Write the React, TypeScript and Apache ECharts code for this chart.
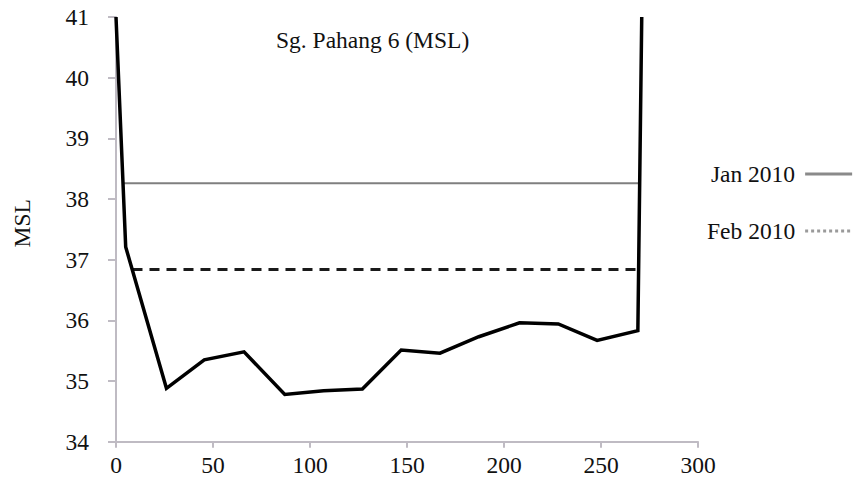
import React, { useEffect, useRef } from "react";
import * as echarts from "echarts";

const profileX = [0, 5, 26, 45.5, 66, 87, 107, 127, 147, 167, 187, 208, 228, 248, 269, 271];
const profileY = [41, 37.21, 34.88, 35.35, 35.48, 34.78, 34.84, 34.87, 35.51, 35.46, 35.73, 35.96, 35.94, 35.67, 35.83, 41];
const janX = [3.8, 269.3];
const janY = [38.26, 38.26];
const febX = [8.5, 269.5];
const febY = [36.84, 36.84];
const seriesNames = ["Jan 2010", "Feb 2010"];
const titleText = "Sg. Pahang 6 (MSL)";
const yName = "MSL";

const FONT = "Liberation Serif";
const FS = 23.5;

function pairs(xs: number[], ys: number[]) {
  return xs.map((x, i) => [x, ys[i]]);
}

export default function App() {
  const ref = useRef<HTMLDivElement>(null);
  useEffect(() => {
    if (!ref.current) return;
    const chart = echarts.init(ref.current, undefined, { renderer: "svg" });
    const axisColor = "#bfbbc3";
    const hidden = { color: "rgba(0,0,0,0)", opacity: 0, borderWidth: 0 };
    chart.setOption({
      animation: false,
      backgroundColor: "#ffffff",
      textStyle: { fontFamily: FONT },
      title: {
        text: titleText,
        left: 276,
        top: 28,
        padding: 0,
        textStyle: { fontFamily: FONT, fontSize: FS, fontWeight: "normal", color: "#111" },
      },
      legend: {
        orient: "vertical",
        left: 702,
        top: 157,
        align: "right",
        itemWidth: 47,
        itemHeight: 14,
        itemGap: 33,
        textStyle: { fontFamily: FONT, fontSize: FS, color: "#111", padding: [0, 5, 0, 0] },
        data: [
          { name: seriesNames[0], itemStyle: hidden, lineStyle: { color: "#8a8a8a", width: 3, type: "solid" } },
          { name: seriesNames[1], itemStyle: hidden, lineStyle: { color: "#9a9a9a", width: 3, type: "dotted" } },
        ],
      },
      grid: { left: 116, right: 164, top: 17, bottom: 37.3, containLabel: false },
      xAxis: {
        type: "value",
        min: 0,
        max: 300,
        interval: 50,
        axisLine: { show: true, lineStyle: { color: axisColor, width: 2 } },
        axisTick: { show: true, length: 6, lineStyle: { color: axisColor, width: 2 } },
        splitLine: { show: false },
        axisLabel: { margin: 11, fontFamily: FONT, fontSize: FS, color: "#111" },
      },
      yAxis: {
        type: "value",
        min: 34,
        max: 41,
        interval: 1,
        name: yName,
        nameLocation: "middle",
        nameRotate: 90,
        nameGap: 82,
        nameTextStyle: { fontFamily: FONT, fontSize: FS, color: "#111", padding: [0, 0, 0, 12] },
        axisLine: { show: true, lineStyle: { color: axisColor, width: 2 } },
        axisTick: { show: true, length: 8, lineStyle: { color: axisColor, width: 2 } },
        splitLine: { show: false },
        axisLabel: { margin: 27, fontFamily: FONT, fontSize: FS, color: "#111" },
      },
      series: [
        {
          name: "profile",
          type: "line",
          data: pairs(profileX, profileY),
          symbol: "none",
          clip: false,
          lineStyle: { color: "#000", width: 3.5, join: "miter" },
          z: 3,
        },
        {
          name: seriesNames[0],
          type: "line",
          data: pairs(janX, janY),
          symbol: "none",
          clip: false,
          lineStyle: { color: "#7f7f7f", width: 2 },
          z: 2,
        },
        {
          name: seriesNames[1],
          type: "line",
          data: pairs(febX, febY),
          symbol: "none",
          clip: false,
          lineStyle: { color: "#1a1a1a", width: 3, type: [10, 7] },
          z: 2,
        },
      ],
    });
    return () => chart.dispose();
  }, []);
  return <div ref={ref} style={{ width: 862, height: 479, position: "absolute", left: 0, top: 0 }} />;
}
